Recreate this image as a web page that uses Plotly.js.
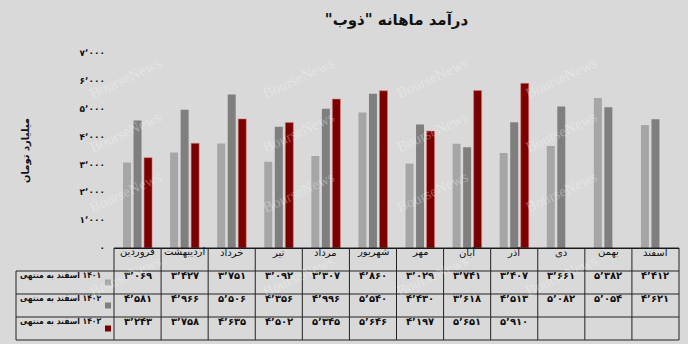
<!DOCTYPE html>
<html>
<head>
<meta charset="utf-8">
<script src="https://cdn.plot.ly/plotly-3.0.1.min.js"></script>
<style>
  html, body { margin: 0; padding: 0; background: #d9d9d9; }
  #chart { width: 688px; height: 344px; }
</style>
</head>
<body>
<div id="chart"></div>
<script>
// Monthly revenue of "ذوب" (billion toman), three fiscal years
const months = ['فروردین', 'اردیبهشت', 'خرداد', 'تیر', 'مرداد', 'شهریور',
                'مهر', 'آبان', 'آذر', 'دی', 'بهمن', 'اسفند'];

const rev1401 = [3069, 3427, 3751, 3092, 3307, 4860, 3029, 3741, 3407, 3661, 5382, 4412];
const rev1402 = [4581, 4966, 5506, 4356, 4996, 5540, 4430, 3618, 4513, 5082, 5054, 4621];
const rev1403 = [3243, 3758, 4635, 4502, 5345, 5646, 4197, 5651, 5910, null, null, null];

const seriesNames = ['منتهی به اسفند ۱۴۰۱', 'منتهی به اسفند ۱۴۰۲', 'منتهی به اسفند ۱۴۰۳'];
const seriesColors = ['#a6a6a6', '#7f7f7f', '#7b0000'];

const yTickVals = [0, 1000, 2000, 3000, 4000, 5000, 6000, 7000];
const yTickText = ['۰', '۱٬۰۰۰', '۲٬۰۰۰', '۳٬۰۰۰', '۴٬۰۰۰', '۵٬۰۰۰', '۶٬۰۰۰', '۷٬۰۰۰'];

const titleText = 'درآمد ماهانه "ذوب"';
const yTitleText = 'میلیارد تومان';
const watermarkText = 'BourseNews';

const RLM = '\u200F', LRM = '\u200E';

// Persian digits with the Arabic thousands separator
function fa(n) {
  const pd = '۰۱۲۳۴۵۶۷۸۹';
  return n.toLocaleString('en-US').replace(/\d/g, d => pd[+d]).replace(/,/g, '٬');
}

const seriesData = [rev1401, rev1402, rev1403];
const FONT = 'DejaVu Sans';
const FONT_C = 'DejaVu Sans Condensed, DejaVu Sans';

const traces = seriesData.map((vals, s) => ({
  type: 'bar',
  name: seriesNames[s],
  x: months,
  y: vals,
  marker: {
    color: seriesColors[s],
    line: s === 2 ? {color: 'rgba(225,120,120,0.55)', width: 1} : {width: 0}
  },
  hoverinfo: 'skip'
}));

// ---- data table under the plot (paper coordinates) ----
const plotW = 565, plotH = 195, plotL = 114;
const px2x = p => (p - plotL) / plotW;      // page x -> paper x
const py2y = p => (248 - p) / plotH;        // page y -> paper y

const rowEdges = [248, 271, 294, 317, 340].map(py2y);
const rowCenters = [259.5, 282.5, 305.5, 328.5].map(py2y);
const leftEdge = px2x(16);
const nCat = months.length;

const lineStyle = {color: '#222', width: 1};
const shapes = [];
// horizontal rules
rowEdges.forEach((y, r) => {
  shapes.push({type: 'line', xref: 'paper', yref: 'paper',
    x0: r === 0 ? 0 : leftEdge, x1: 1, y0: y, y1: y, line: lineStyle});
});
// vertical rules between month columns
for (let k = 0; k <= nCat; k++) {
  shapes.push({type: 'line', xref: 'paper', yref: 'paper',
    x0: k / nCat, x1: k / nCat, y0: rowEdges[0], y1: rowEdges[4], line: lineStyle});
}
shapes.push({type: 'line', xref: 'paper', yref: 'paper',
  x0: leftEdge, x1: leftEdge, y0: rowEdges[1], y1: rowEdges[4], line: lineStyle});
// legend keys
seriesColors.forEach((c, s) => {
  const yc = rowCenters[s + 1];
  shapes.push({type: 'rect', xref: 'paper', yref: 'paper',
    x0: px2x(105), x1: px2x(111), y0: yc - 3 / plotH, y1: yc + 3 / plotH,
    fillcolor: c, line: {width: 0}});
});

const annotations = [];
// header row: month names
months.forEach(m => {
  annotations.push({xref: 'x', yref: 'paper', x: m, y: rowCenters[0],
    text: m, showarrow: false, font: {family: FONT, size: 10, color: '#111'}});
});
// value rows
seriesData.forEach((vals, s) => {
  vals.forEach((v, i) => {
    if (v === null) return;
    annotations.push({xref: 'x', yref: 'paper', x: months[i], y: rowCenters[s + 1],
      text: '<b>' + fa(v) + '</b>', showarrow: false,
      font: {family: FONT, size: 10, color: '#111'}});
  });
});
// row labels (words laid out left to right)
seriesNames.forEach((name, s) => {
  const label = name.split(' ').join(LRM + ' ' + LRM);
  annotations.push({xref: 'paper', yref: 'paper', x: px2x(103), y: rowCenters[s + 1],
    xanchor: 'right', text: '<b>' + label + '</b>', showarrow: false,
    font: {family: FONT_C, size: 8.5, color: '#111'}});
});
// faint watermark
const wmX = [85, 258, 432, 602];
const wmY = [52, 132, 218, 302];
wmY.forEach(py => wmX.forEach(px => {
  annotations.push({xref: 'paper', yref: 'paper', x: px2x(px), y: py2y(py),
    text: watermarkText, showarrow: false, textangle: -25,
    font: {family: 'Liberation Serif', size: 15, color: 'rgba(255,255,255,0.3)'}});
}));

const layout = {
  width: 688, height: 344,
  margin: {l: 114, r: 9, t: 53, b: 96},
  paper_bgcolor: '#d9d9d9',
  plot_bgcolor: '#d9d9d9',
  showlegend: false,
  barmode: 'group',
  bargap: 0.33,
  bargroupgap: 0.24,
  title: {
    text: '<b>' + RLM + titleText + RLM + '</b>',
    x: 0.5, xref: 'paper', xanchor: 'center',
    y: 1 - 20 / 344, yref: 'container', yanchor: 'middle',
    font: {family: FONT, size: 15, color: '#111'}
  },
  xaxis: {
    type: 'category',
    range: [-0.5, nCat - 0.5],
    showticklabels: false,
    ticks: '',
    showline: true, linecolor: '#111', linewidth: 1,
    showgrid: false, zeroline: false, fixedrange: true
  },
  yaxis: {
    range: [0, 7000],
    tickvals: yTickVals,
    ticktext: yTickText,
    tickfont: {family: FONT, size: 9, color: '#111', weight: 'bold'},
    ticks: '',
    ticklabelstandoff: 8,
    showline: false, showgrid: false, zeroline: false,
    automargin: false, fixedrange: true,
    title: {
      text: '<b>' + yTitleText + '</b>',
      standoff: 48,
      font: {family: FONT, size: 10, color: '#111'}
    }
  },
  shapes: shapes,
  annotations: annotations
};

Plotly.newPlot('chart', traces, layout, {displayModeBar: false, staticPlot: true});
</script>
</body>
</html>
